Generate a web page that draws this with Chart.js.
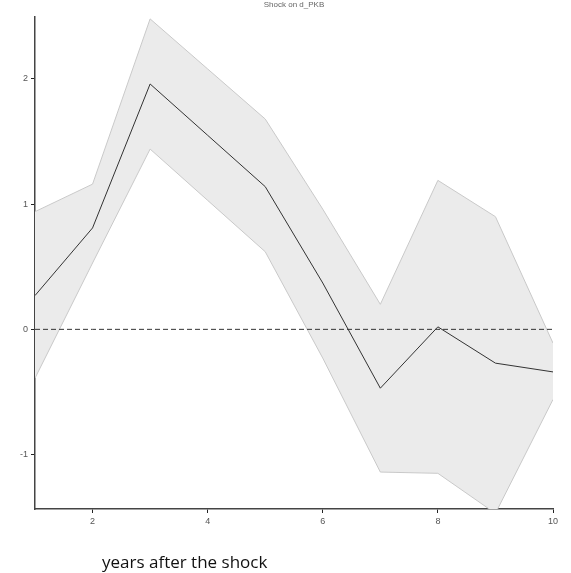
<!DOCTYPE html>
<html>
<head>
<meta charset="utf-8">
<script src="https://cdn.jsdelivr.net/npm/chart.js@4.4.1/dist/chart.umd.min.js"></script>
<style>
  body { margin: 0; background: white; }
  #wrap { position: relative; width: 571px; height: 573px; }
  #xlabel {
    position: absolute; left: 102px; top: 553px;
    font-family: 'Open Sans', sans-serif; font-size: 17px; line-height: 1; color: #111;
  }
</style>
</head>
<body>
<div id="wrap">
  <canvas id="chart" width="571" height="573"></canvas>
  <div id="xlabel">years after the shock</div>
</div>
<script>
const years = [1, 2, 3, 4, 5, 6, 7, 8, 9, 10]
const irf   = [0.27, 0.81, 1.96, 1.55, 1.14, 0.37, -0.47, 0.02, -0.27, -0.34]
const upper = [0.94, 1.16, 2.48, 2.08, 1.68, 0.96, 0.20, 1.19, 0.90, -0.11]
const lower = [-0.39, 0.53, 1.44, 1.03, 0.62, -0.23, -1.14, -1.15, -1.47, -0.56]
const zero  = years.map(() => 0)
const xTicks = [2, 4, 6, 8, 10]
const yTicks = [-1, 0, 1, 2]

const pts = arr => arr.map((v, i) => ({ x: years[i], y: v }))
const tickFont = { family: 'Liberation Sans', size: 9 }

new Chart(document.getElementById('chart'), {
  type: 'line',
  data: {
    datasets: [
      {
        label: 'upper',
        data: pts(upper),
        borderColor: '#c9c9c9',
        borderWidth: 1,
        backgroundColor: '#ebebeb',
        fill: '+1',
        pointRadius: 0,
        order: 4
      },
      {
        label: 'lower',
        data: pts(lower),
        borderColor: '#c9c9c9',
        borderWidth: 1,
        fill: false,
        pointRadius: 0,
        order: 3
      },
      {
        label: 'zero',
        data: pts(zero),
        borderColor: '#333',
        borderWidth: 1,
        borderDash: [5, 3],
        fill: false,
        pointRadius: 0,
        order: 2
      },
      {
        label: 'irf',
        data: pts(irf),
        borderColor: '#333',
        borderWidth: 1,
        fill: false,
        pointRadius: 0,
        order: 1
      }
    ]
  },
  options: {
    responsive: false,
    animation: false,
    layout: { padding: { top: 0, right: 18, left: 0, bottom: 0 } },
    plugins: {
      legend: { display: false },
      tooltip: { enabled: false },
      title: {
        display: true,
        text: 'Shock on d_PKB',
        fullSize: false,
        color: '#666',
        font: { family: 'Liberation Sans', size: 8, weight: 'normal', lineHeight: 1.2 },
        padding: { top: 0, bottom: 7.4 }
      }
    },
    scales: {
      x: {
        type: 'linear',
        min: 1,
        max: 10,
        afterBuildTicks: s => { s.ticks = xTicks.map(v => ({ value: v })) },
        afterFit: s => { s.height = 64 },
        ticks: { color: '#555', font: tickFont, padding: 3, maxRotation: 0 },
        grid: { display: true, drawOnChartArea: false, tickLength: 4, color: '#222' },
        border: { display: true, color: '#444', width: 1.5 }
      },
      y: {
        min: -1.435,
        max: 2.495,
        afterBuildTicks: s => { s.ticks = yTicks.map(v => ({ value: v })) },
        afterFit: s => { s.width = 35 },
        ticks: { color: '#555', font: tickFont, padding: 3 },
        grid: { display: true, drawOnChartArea: false, tickLength: 4, color: '#222' },
        border: { display: true, color: '#444', width: 1.5 }
      }
    }
  }
})
</script>
</body>
</html>
